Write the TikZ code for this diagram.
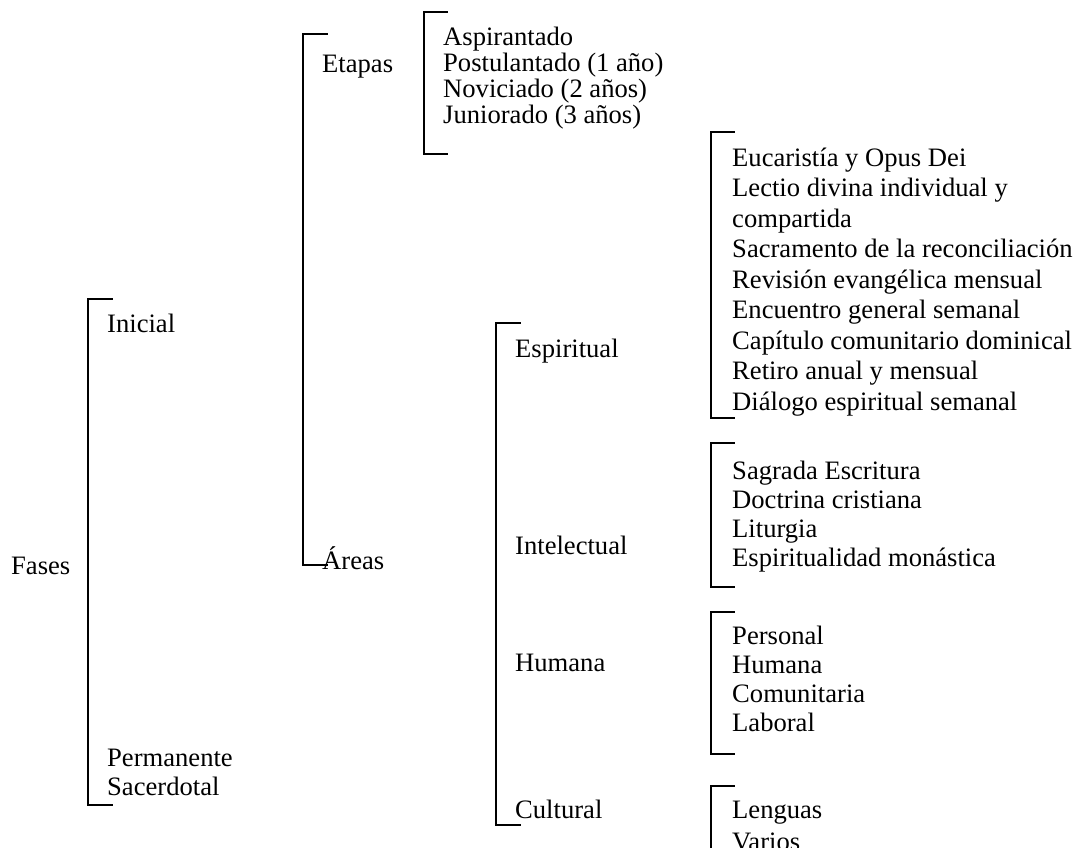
\documentclass[tikz,border=0pt]{standalone}
\usepackage{fontspec}
\setmainfont{Liberation Serif}
\usepackage{tikz}
\tikzstyle{entry}=[anchor=base west, inner sep=0pt, font=\fontsize{26.6}{30.5}\selectfont]
\tikzstyle{bracketline}=[line width=1.6pt, line cap=rect]

\begin{document}
\begin{tikzpicture}[x=1pt,y=1pt]
		   \useasboundingbox (0,0) rectangle (1081,-847);
		   \clip (0,0) rectangle (1081,-847);
		   \begin{scope}
			   \node (fases) at (11,-574)[entry] {Fases};
			   \node (inicial) at (107,-332)[entry] {Inicial};
			   \node (permanente) at (107,-766)[entry] {Permanente};
			   \node (sacerdotal) at (107,-795)[entry] {Sacerdotal};

			   \node (etapas) at (322,-72)[entry] {Etapas};
			   \node (areas) at (322,-569)[entry] {Áreas};

			   \node (a1) at (443,-45)[entry] {Aspirantado};
			   \node (a2) at (443,-71)[entry] {Postulantado (1 año)};
			   \node (a3) at (443,-97)[entry] {Noviciado (2 años)};
			   \node (a4) at (443,-123)[entry] {Juniorado (3 años)};

			   \node (esp) at (515,-357)[entry] {Espiritual};
			   \node (int) at (515,-554)[entry] {Intelectual};
			   \node (hum) at (515,-671)[entry] {Humana};
			   \node (cul) at (515,-818)[entry] {Cultural};

			   \node (e1) at (732,-166)[entry] {Eucaristía y Opus Dei};
			   \node (e2) at (732,-196.5)[entry] {Lectio divina individual y};
			   \node (e3) at (732,-227)[entry] {compartida};
			   \node (e4) at (732,-257.5)[entry] {Sacramento de la reconciliación};
			   \node (e5) at (732,-288)[entry] {Revisión evangélica mensual};
			   \node (e6) at (732,-318.5)[entry] {Encuentro general semanal};
			   \node (e7) at (732,-349)[entry] {Capítulo comunitario dominical};
			   \node (e8) at (732,-379.5)[entry] {Retiro anual y mensual};
			   \node (e9) at (732,-410)[entry] {Diálogo espiritual semanal};

			   \node (i1) at (732,-479)[entry] {Sagrada Escritura};
			   \node (i2) at (732,-508)[entry] {Doctrina cristiana};
			   \node (i3) at (732,-537)[entry] {Liturgia};
			   \node (i4) at (732,-566)[entry] {Espiritualidad monástica};

			   \node (h1) at (732,-644)[entry] {Personal};
			   \node (h2) at (732,-673)[entry] {Humana};
			   \node (h3) at (732,-702)[entry] {Comunitaria};
			   \node (h4) at (732,-731)[entry] {Laboral};

			   \node (c1) at (732,-818)[entry] {Lenguas};
			   \node (c2) at (732,-850)[entry] {Varios};

			   \coordinate (f0) at (112,-299);
			   \coordinate (f1) at (88,-299);
			   \coordinate (f2) at (88,-805);
			   \coordinate (f3) at (112,-805);

			   \coordinate (g0) at (327,-34);
			   \coordinate (g1) at (303,-34);
			   \coordinate (g2) at (303,-565);
			   \coordinate (g3) at (327,-565);

			   \coordinate (s0) at (447,-12);
			   \coordinate (s1) at (424,-12);
			   \coordinate (s2) at (424,-154);
			   \coordinate (s3) at (447,-154);

			   \coordinate (r0) at (520,-323);
			   \coordinate (r1) at (496,-323);
			   \coordinate (r2) at (496,-825);
			   \coordinate (r3) at (520,-825);

			   \coordinate (p0) at (734,-132);
			   \coordinate (p1) at (711,-132);
			   \coordinate (p2) at (711,-418);
			   \coordinate (p3) at (734,-418);

			   \coordinate (q0) at (734,-443);
			   \coordinate (q1) at (711,-443);
			   \coordinate (q2) at (711,-587);
			   \coordinate (q3) at (734,-587);

			   \coordinate (u0) at (734,-612);
			   \coordinate (u1) at (711,-612);
			   \coordinate (u2) at (711,-754);
			   \coordinate (u3) at (734,-754);

			   \coordinate (v0) at (734,-786);
			   \coordinate (v1) at (711,-786);
			   \coordinate (v2) at (711,-870);
		   \end{scope}
		   \begin{scope}[bracketline]
			   \path [-] (f0) edge (f1);
			   \path [-] (f1) edge (f2);
			   \path [-] (f2) edge (f3);

			   \path [-] (g0) edge (g1);
			   \path [-] (g1) edge (g2);
			   \path [-] (g2) edge (g3);

			   \path [-] (s0) edge (s1);
			   \path [-] (s1) edge (s2);
			   \path [-] (s2) edge (s3);

			   \path [-] (r0) edge (r1);
			   \path [-] (r1) edge (r2);
			   \path [-] (r2) edge (r3);

			   \path [-] (p0) edge (p1);
			   \path [-] (p1) edge (p2);
			   \path [-] (p2) edge (p3);

			   \path [-] (q0) edge (q1);
			   \path [-] (q1) edge (q2);
			   \path [-] (q2) edge (q3);

			   \path [-] (u0) edge (u1);
			   \path [-] (u1) edge (u2);
			   \path [-] (u2) edge (u3);

			   \path [-] (v0) edge (v1);
			   \path [-] (v1) edge (v2);
		   \end{scope}
\end{tikzpicture}
\end{document}
